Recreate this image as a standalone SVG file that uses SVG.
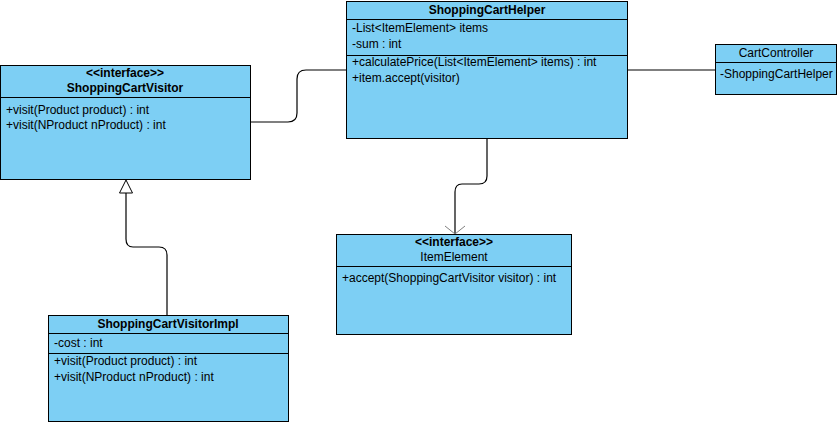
<svg xmlns="http://www.w3.org/2000/svg" width="840" height="425" viewBox="0 0 840 425">
  <style>
    .box { fill: #7dcff4; stroke: #000; stroke-width: 1; }
    .sep { stroke: #000; stroke-width: 1; }
    .t { font-family: "Liberation Sans", Arial, sans-serif; font-size: 12px; fill: #000; }
    .b { font-weight: bold; }
    .c { text-anchor: middle; }
    .edge { fill: none; stroke: #000; stroke-width: 1.2; }
  </style>
  <defs>
    <marker id="openV" markerWidth="24" markerHeight="24" refX="11" refY="12" orient="auto" markerUnits="userSpaceOnUse">
      <path d="M3,2 L11,12 L3,22" fill="none" stroke="#808080" stroke-width="1"/>
    </marker>
  </defs>

  <g id="connectors">
    <!-- association: visitor -> helper -->
    <path class="edge" d="M250,122 H288 Q297,122 297,113 V79 Q297,70 306,70 H346"/>
    <!-- association: helper -> controller -->
    <path class="edge" d="M627,70 H715"/>
    <!-- dependency: helper -> item element -->
    <path class="edge" d="M487,139 V176 Q487,184 479,184 H462 Q455,184 455,192 V234" marker-end="url(#openV)"/>
    <!-- realization: impl -> visitor interface -->
    <path class="edge" d="M167,315 V255 Q167,247 159,247 H133 Q126,247 126,239 V193"/>
    <path d="M126,180 L119.5,193 L132.5,193 Z" fill="#fff" stroke="#000" stroke-width="1"/>
  </g>

  <g id="ShoppingCartVisitor">
    <rect class="box" x="0.5" y="65.5" width="250" height="114"/>
    <line class="sep" x1="0.5" y1="97.5" x2="250.5" y2="97.5"/>
    <text class="t b c" x="125" y="77">&lt;&lt;interface&gt;&gt;</text>
    <text class="t b c" x="125" y="92">ShoppingCartVisitor</text>
    <text class="t" x="6" y="114">+visit(Product product) : int</text>
    <text class="t" x="6" y="129">+visit(NProduct nProduct) : int</text>
  </g>

  <g id="ShoppingCartHelper">
    <rect class="box" x="346.5" y="1.5" width="281" height="137"/>
    <line class="sep" x1="346.5" y1="19.5" x2="627.5" y2="19.5"/>
    <line class="sep" x1="346.5" y1="55.5" x2="627.5" y2="55.5"/>
    <text class="t b c" x="487" y="14">ShoppingCartHelper</text>
    <text class="t" x="352" y="32">-List&lt;ItemElement&gt; items</text>
    <text class="t" x="352" y="48">-sum : int</text>
    <text class="t" x="352" y="66">+calculatePrice(List&lt;ItemElement&gt; items) : int</text>
    <text class="t" x="352" y="82">+item.accept(visitor)</text>
  </g>

  <g id="CartController">
    <rect class="box" x="715.5" y="44.5" width="121" height="50"/>
    <line class="sep" x1="715.5" y1="62.5" x2="836.5" y2="62.5"/>
    <text class="t c" x="776" y="57">CartController</text>
    <text class="t" x="720" y="78">-ShoppingCartHelper</text>
  </g>

  <g id="ItemElement">
    <rect class="box" x="336.5" y="234.5" width="235" height="100"/>
    <line class="sep" x1="336.5" y1="266.5" x2="571.5" y2="266.5"/>
    <text class="t b c" x="454" y="246">&lt;&lt;interface&gt;&gt;</text>
    <text class="t c" x="454" y="261">ItemElement</text>
    <text class="t" x="342" y="282">+accept(ShoppingCartVisitor visitor) : int</text>
  </g>

  <g id="ShoppingCartVisitorImpl">
    <rect class="box" x="48.5" y="315.5" width="240" height="106"/>
    <line class="sep" x1="48.5" y1="333.5" x2="288.5" y2="333.5"/>
    <line class="sep" x1="48.5" y1="353.5" x2="288.5" y2="353.5"/>
    <text class="t b c" x="168" y="328">ShoppingCartVisitorImpl</text>
    <text class="t" x="54" y="347">-cost : int</text>
    <text class="t" x="54" y="365">+visit(Product product) : int</text>
    <text class="t" x="54" y="381">+visit(NProduct nProduct) : int</text>
  </g>
</svg>
